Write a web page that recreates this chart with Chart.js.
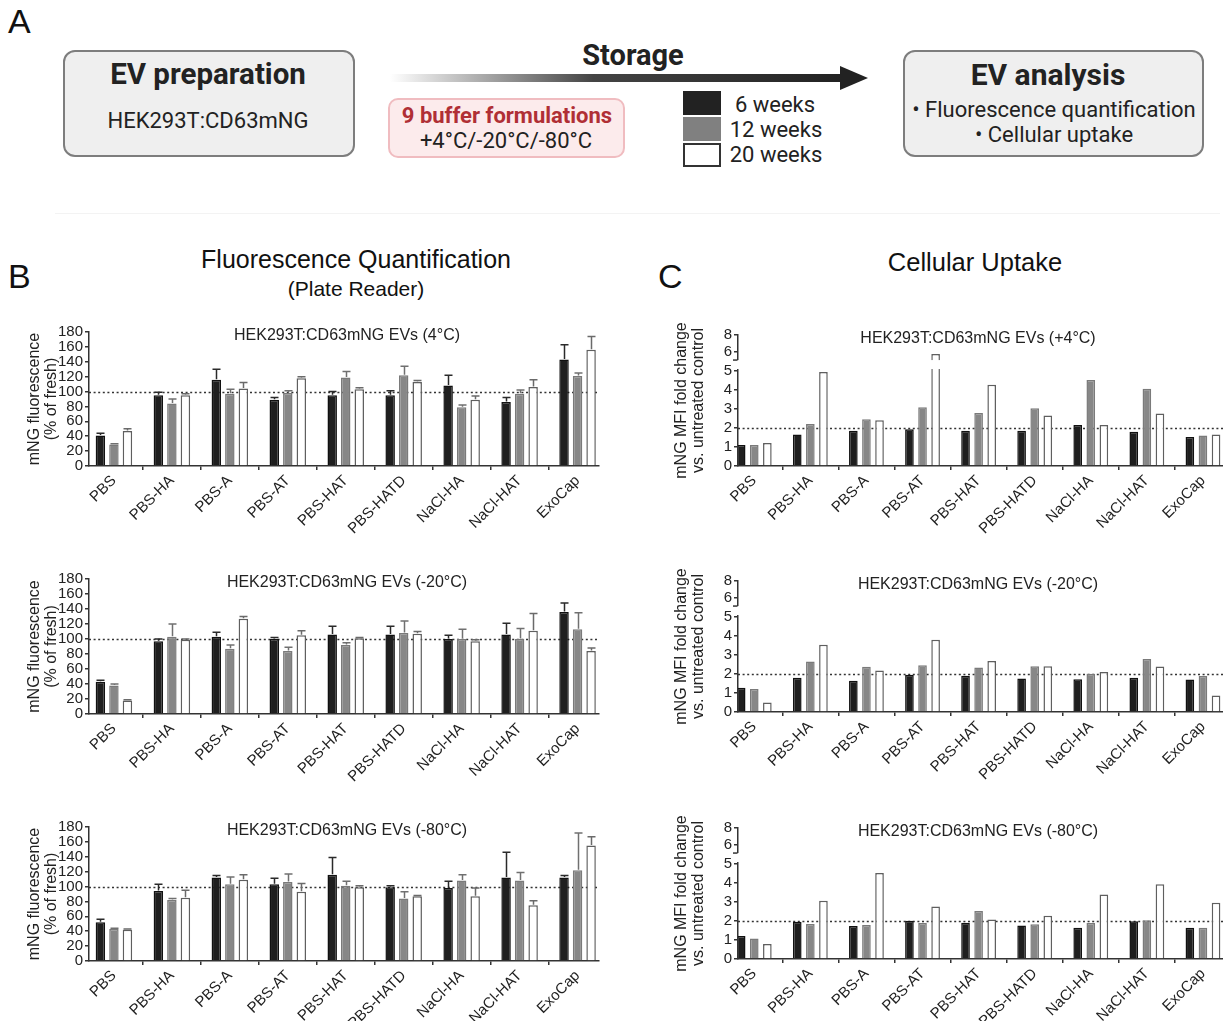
<!DOCTYPE html>
<html><head><meta charset="utf-8">
<script src="https://cdn.jsdelivr.net/npm/chart.js@4.4.1/dist/chart.umd.min.js"></script>
<style>
html,body{margin:0;padding:0;background:#fff;width:1223px;height:1021px;overflow:hidden;}
#root{position:relative;width:1223px;height:1021px;overflow:hidden;color:#222;}
.abs{position:absolute;}
.ctr{position:absolute;white-space:nowrap;transform:translate(-50%,-50%);text-align:center;line-height:1;}
.pa{font-family:Roboto,'Liberation Sans',Arial,sans-serif;color:#222;}
.hd{font-family:'Liberation Sans',Arial,sans-serif;color:#111;}
.box{position:absolute;background:#efefef;border:2px solid #7d7d7d;border-radius:12px;box-sizing:border-box;}
.cv{position:absolute;}
</style></head>
<body><div id="root">
<!-- Panel A -->
<div class="abs hd" style="left:8px;top:2px;font-size:34px;">A</div>
<div class="box" style="left:63px;top:50px;width:292px;height:107px;"></div>
<div class="ctr pa" style="left:208px;top:75px;font-size:29.5px;font-weight:bold;">EV preparation</div>
<div class="ctr pa" style="left:208px;top:121px;font-size:22px;">HEK293T:CD63mNG</div>
<svg class="abs" style="left:385px;top:60px;" width="490" height="40">
  <defs><linearGradient id="g" x1="0" x2="1" y1="0" y2="0">
    <stop offset="0" stop-color="#ffffff"/><stop offset="0.45" stop-color="#444"/><stop offset="1" stop-color="#222"/></linearGradient></defs>
  <rect x="5" y="14" width="452" height="8" fill="url(#g)"/>
  <polygon points="455,6 483,18 455,30" fill="#222"/>
</svg>
<div class="ctr pa" style="left:633px;top:55px;font-size:29px;font-weight:bold;">Storage</div>
<div class="abs" style="left:388px;top:98px;width:237px;height:60px;background:#fcebec;border:2px solid #f0bcc0;border-radius:10px;box-sizing:border-box;"></div>
<div class="ctr pa" style="left:507px;top:116px;font-size:22px;font-weight:bold;color:#b02f35;">9 buffer formulations</div>
<div class="ctr pa" style="left:506px;top:141px;font-size:22px;">+4°C/-20°C/-80°C</div>
<div class="abs" style="left:683px;top:91px;width:38px;height:24px;background:#222;"></div>
<div class="abs" style="left:683px;top:117px;width:38px;height:24px;background:#808080;"></div>
<div class="abs" style="left:683px;top:143px;width:38px;height:24px;background:#fff;border:2px solid #333;box-sizing:border-box;"></div>
<div class="ctr pa" style="left:775px;top:105px;font-size:22px;">6 weeks</div>
<div class="ctr pa" style="left:776px;top:130px;font-size:22px;">12 weeks</div>
<div class="ctr pa" style="left:776px;top:155px;font-size:22px;">20 weeks</div>
<div class="box" style="left:903px;top:50px;width:301px;height:107px;"></div>
<div class="ctr pa" style="left:1048px;top:75px;font-size:30px;font-weight:bold;">EV analysis</div>
<div class="ctr pa" style="left:1054px;top:110px;font-size:22px;">• Fluorescence quantification</div>
<div class="ctr pa" style="left:1054px;top:135px;font-size:22px;">• Cellular uptake</div>
<div class="abs" style="left:55px;top:213px;width:1165px;height:1px;background:#f3f3f3;"></div>

<!-- Section headers -->
<div class="abs hd" style="left:8px;top:257px;font-size:34px;">B</div>
<div class="abs hd" style="left:658px;top:257px;font-size:34px;">C</div>
<div class="ctr hd" style="left:356px;top:259px;font-size:25px;">Fluorescence Quantification</div>
<div class="ctr hd" style="left:356px;top:288px;font-size:21px;">(Plate Reader)</div>
<div class="ctr hd" style="left:975px;top:263px;font-size:25.5px;">Cellular Uptake</div>

<canvas id="b1" class="cv"></canvas>
<canvas id="b2" class="cv"></canvas>
<canvas id="b3" class="cv"></canvas>
<canvas id="c1" class="cv"></canvas>
<canvas id="c2" class="cv"></canvas>
<canvas id="c3" class="cv"></canvas>
</div>
<script>
// ---------------- DATA ----------------
const categories = ['PBS','PBS-HA','PBS-A','PBS-AT','PBS-HAT','PBS-HATD','NaCl-HA','NaCl-HAT','ExoCap'];
const seriesNames = ['6 weeks','12 weeks','20 weeks'];
const bTickValues = [0,20,40,60,80,100,120,140,160,180];
const cTickValues = [0,1,2,3,4,5,6,8];

// B: fluorescence (% of fresh), means and upper error (SD)
const b4_w6  = [41,95,116,89,95,95,108,86,143];
const b4_w12 = [29,84,97,98,119,122,79,97,121];
const b4_w20 = [47,95,104,118,103,113,89,106,156];
const b4_e6  = [3,4,14,3,5,6,14,6,20];
const b4_e12 = [1,6,6,3,8,12,3,5,4];
const b4_e20 = [3,2,8,2,2,2,5,10,18];

const b20_w6  = [43,97,103,100,106,106,100,106,136];
const b20_w12 = [38,103,87,84,92,108,100,100,113];
const b20_w20 = [18,99,127,105,101,107,97,111,84];
const b20_e6  = [2,3,6,2,11,11,5,15,12];
const b20_e12 = [2,17,5,5,3,16,13,14,22];
const b20_e20 = [1,1,3,6,1,3,2,23,4];

const b80_w6  = [52,94,112,103,116,99,98,112,112];
const b80_w12 = [43,82,103,106,101,84,108,108,122];
const b80_w20 = [42,85,109,93,99,87,87,75,155];
const b80_e6  = [4,9,3,8,23,2,9,34,3];
const b80_e12 = [1,2,10,11,6,9,8,11,50];
const b80_e20 = [1,10,7,11,2,1,11,6,12];

// C: mNG MFI fold change vs untreated control
const c4_w6  = [1.1,1.65,1.85,1.92,1.85,1.85,2.15,1.8,1.52];
const c4_w12 = [1.1,2.2,2.45,3.07,2.78,3.02,4.5,4.05,1.6];
const c4_w20 = [1.2,4.92,2.4,5.8,4.25,2.65,2.15,2.75,1.65];

const c20_w6  = [1.27,1.8,1.63,1.95,1.9,1.75,1.72,1.8,1.7];
const c20_w12 = [1.2,2.65,2.37,2.45,2.33,2.4,2.0,2.78,1.88];
const c20_w20 = [0.5,3.52,2.17,3.78,2.67,2.4,2.1,2.38,0.87];

const c80_w6  = [1.2,1.95,1.73,2.0,1.9,1.75,1.63,1.98,1.63];
const c80_w12 = [1.07,1.83,1.78,1.88,2.52,1.82,1.88,2.03,1.63];
const c80_w20 = [0.78,3.05,4.5,2.75,2.07,2.27,3.38,3.92,2.95];

// ---------------- STYLE ----------------
const FONT = "'Liberation Sans', Arial, Helvetica, sans-serif";
const fills = ['#1f1f1f','#878787','#ffffff'];
const borders = ['#111111','#7a7a7a','#5f5f5f'];
const errColors = ['#2a2a2a','#707070','#6a6a6a'];
const AXIS = '#333';

// broken-axis mapping for panel C (lower segment 0-5, compressed upper segment)
const BRK_LOW = 5, BRK_T = 5.6, BRK_V = 5.2, BRK_SLOPE = 0.45;
function cT(v){ return v <= BRK_LOW ? v : BRK_T + (v - BRK_V) * BRK_SLOPE; }

const extras = {
  id: 'extras',
  beforeDatasetsDraw(chart, args, o) {
    const {ctx, chartArea: ca} = chart; const ys = chart.scales.y;
    const y = Math.round(ys.getPixelForValue(o.ref)) + 0.5;
    ctx.save(); ctx.strokeStyle = '#333'; ctx.lineWidth = 1.3; ctx.setLineDash([2, 2.6]);
    ctx.beginPath(); ctx.moveTo(ca.left, y); ctx.lineTo(ca.right, y); ctx.stroke(); ctx.restore();
  },
  afterDatasetsDraw(chart, args, o) {
    if (!o.errors) return;
    const {ctx} = chart; const ys = chart.scales.y;
    ctx.save(); ctx.lineWidth = 1.5;
    chart.data.datasets.forEach((ds, k) => {
      const meta = chart.getDatasetMeta(k);
      ctx.strokeStyle = errColors[k];
      meta.data.forEach((el, i) => {
        const v = o.raw[k][i], e = o.errors[k][i];
        const yTop = ys.getPixelForValue(v), yE = ys.getPixelForValue(v + e);
        const x = Math.round(el.x) + 0.5;
        ctx.beginPath(); ctx.moveTo(x, yTop - 0.5); ctx.lineTo(x, yE);
        ctx.moveTo(x - 4, yE); ctx.lineTo(x + 4, yE); ctx.stroke();
      });
    });
    ctx.restore();
  },
  afterDraw(chart, args, o) {
    const {ctx, chartArea: ca} = chart; const ys = chart.scales.y;
    ctx.save();
    if (o.brk) {
      const y5 = ys.getPixelForValue(BRK_LOW), yU = ys.getPixelForValue(BRK_T);
      ctx.fillStyle = '#fff';
      ctx.fillRect(ca.left - 3, yU + 1, ca.right - ca.left + 3, (y5 - 1.5) - (yU + 1));
      ctx.strokeStyle = AXIS; ctx.lineWidth = 1.5;
      ctx.beginPath(); ctx.moveTo(ca.left - 5, yU + 1); ctx.lineTo(ca.left - 0.5, yU + 1); ctx.stroke();
    }
    ctx.fillStyle = '#222'; ctx.font = '16px ' + FONT; ctx.textAlign = 'center'; ctx.textBaseline = 'middle';
    ctx.fillText(o.title, o.titleX, ca.top + 4);
    ctx.restore();
  }
};

function makeChart(id, cfg) {
  const cv = document.getElementById(id);
  const H = cfg.padT + (cfg.bottom - cfg.top) + cfg.xh;
  cv.width = cfg.w; cv.height = H;
  cv.style.left = cfg.left + 'px'; cv.style.top = (cfg.top - cfg.padT) + 'px';
  cv.style.width = cfg.w + 'px'; cv.style.height = H + 'px';
  const tf = cfg.broken ? cT : (v => v);
  const datasets = cfg.series.map((vals, k) => ({
    label: seriesNames[k],
    data: vals.map((v, i) => ({x: i, y: tf(v)})),
    backgroundColor: fills[k], borderColor: borders[k], borderWidth: 1.5,
    categoryPercentage: 0.70, barPercentage: cfg.barPct
  }));
  const ticksY = cfg.broken ? cTickValues : bTickValues;
  return new Chart(cv, {
    type: 'bar',
    data: {datasets},
    options: {
      responsive: false, animation: false, devicePixelRatio: 1,
      layout: {padding: {left: 0, top: cfg.padT, right: cfg.padR, bottom: 0}},
      plugins: {
        legend: {display: false}, tooltip: {enabled: false},
        extras: {ref: cfg.ref, errors: cfg.errors, raw: cfg.series, brk: !!cfg.broken, title: cfg.title, titleX: cfg.titleX}
      },
      scales: {
        x: {
          type: 'linear', min: cfg.xmin, max: cfg.xmax, offset: false,
          afterBuildTicks: s => { s.ticks = categories.map((c, i) => ({value: i})); },
          afterFit: s => { s.height = cfg.xh; s.paddingLeft = 0; s.paddingRight = 0; },
          ticks: {autoSkip: false, minRotation: 45, maxRotation: 45, padding: 2, color: '#222',
                  font: {family: FONT, size: 15}, callback: v => categories[v]},
          grid: {drawOnChartArea: false, drawTicks: true, tickLength: 4, color: AXIS, lineWidth: 1.5},
          border: {display: true, color: AXIS, width: 1.5}
        },
        y: {
          type: 'linear', min: 0, max: tf(ticksY[ticksY.length - 1]),
          afterBuildTicks: s => { s.ticks = ticksY.map(v => ({value: tf(v)})); },
          afterFit: s => { s.width = cfg.yw; s.paddingTop = 0; s.paddingBottom = 0; },
          ticks: {autoSkip: false, padding: 2, color: '#222', font: {family: FONT, size: 15},
                  callback: (v, i) => String(ticksY[i])},
          grid: {drawOnChartArea: false, drawTicks: true, tickLength: 4, color: AXIS, lineWidth: 1.5},
          border: {display: true, color: AXIS, width: 1.5},
          title: {display: true, text: cfg.ytitle, color: '#222', font: {family: FONT, size: 16, lineHeight: 1.06},
                  padding: {top: cfg.ytPad, bottom: 0}}
        }
      }
    },
    plugins: [extras]
  });
}

const bCommon = {left: 0, w: 620, padT: 14, padR: 21, xh: 80, yw: 89, xmin: -0.43, xmax: 8.37, ref: 100,
  barPct: 0.70, titleX: 347, ytPad: 26, ytitle: ['mNG fluorescence', '(% of fresh)']};
const cCommon = {left: 660, w: 580, padT: 14, padR: 9, xh: 80, yw: 78, xmin: -0.29, xmax: 8.5, ref: 2,
  barPct: 0.66, titleX: 318, ytPad: 13, broken: true, ytitle: ['mNG MFI fold change', 'vs. untreated control']};

makeChart('b1', Object.assign({}, bCommon, {top: 332, bottom: 466, title: 'HEK293T:CD63mNG EVs (4°C)',
  series: [b4_w6, b4_w12, b4_w20], errors: [b4_e6, b4_e12, b4_e20]}));
makeChart('b2', Object.assign({}, bCommon, {top: 579, bottom: 714, title: 'HEK293T:CD63mNG EVs (-20°C)',
  series: [b20_w6, b20_w12, b20_w20], errors: [b20_e6, b20_e12, b20_e20]}));
makeChart('b3', Object.assign({}, bCommon, {top: 827, bottom: 961, title: 'HEK293T:CD63mNG EVs (-80°C)',
  series: [b80_w6, b80_w12, b80_w20], errors: [b80_e6, b80_e12, b80_e20]}));
makeChart('c1', Object.assign({}, cCommon, {top: 335, bottom: 466, title: 'HEK293T:CD63mNG EVs (+4°C)',
  series: [c4_w6, c4_w12, c4_w20]}));
makeChart('c2', Object.assign({}, cCommon, {top: 581, bottom: 712, title: 'HEK293T:CD63mNG EVs (-20°C)',
  series: [c20_w6, c20_w12, c20_w20]}));
makeChart('c3', Object.assign({}, cCommon, {top: 828, bottom: 959, title: 'HEK293T:CD63mNG EVs (-80°C)',
  series: [c80_w6, c80_w12, c80_w20]}));
</script>
</body></html>
